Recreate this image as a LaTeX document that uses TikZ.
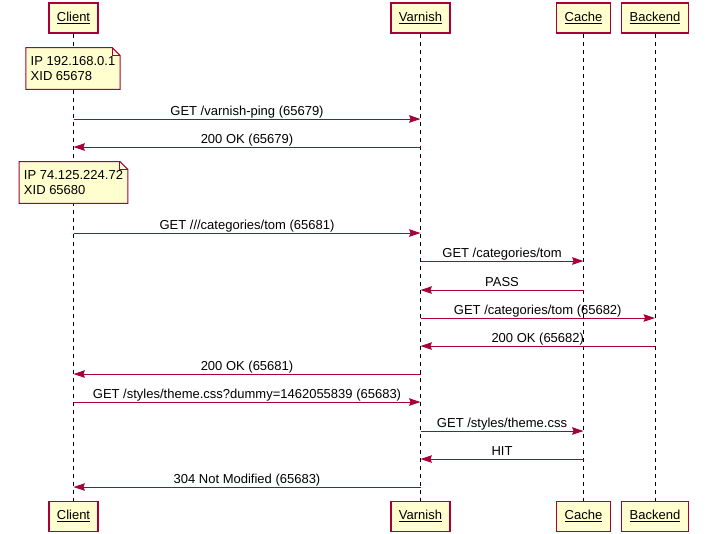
\documentclass[tikz,border=0pt]{standalone}
\usepackage{fontspec}
\setmainfont{Liberation Sans}
\usetikzlibrary{positioning}
\usetikzlibrary{quotes}
\usetikzlibrary{arrows.meta}
\definecolor{plum}{HTML}{A80036}
\definecolor{cream}{HTML}{FEFECE}

\begin{document}
\begin{tikzpicture}
		[x=0.75pt, y=-0.75pt, font=\fontsize{9.75}{11.25}\selectfont,
		 actor/.style={rectangle, draw=plum, fill=cream, line width=1pt, minimum height=22.5pt, inner xsep=6pt},
		 lifeline/.style={black, line width=0.75pt, dash pattern=on 3pt off 3pt},
		 note/.style={fill=cream, align=left, inner xsep=3.5pt, inner ysep=6.4pt},
		 msg/.style={draw=plum, line width=0.75pt, -{Stealth[length=8.5pt, width=5.6pt, inset=1pt]},
			every edge quotes/.style={anchor=base, yshift=3pt, inner sep=0pt, text=black}}]
		\useasboundingbox (0,0) rectangle (706,533);
		\node[actor] (ct) at (73.5,18) {\underline{Client}};
		\node[actor] (vt) at (420.5,18) {\underline{Varnish}};
		\node[actor] (kt) at (583.5,18) {\underline{Cache}};
		\node[actor] (bt) at (655,18) {\underline{Backend}};
		\node[actor, below=350.25pt of ct] (cb) {\underline{Client}};
		\node[actor, below=350.25pt of vt] (vb) {\underline{Varnish}};
		\node[actor, below=350.25pt of kt] (kb) {\underline{Cache}};
		\node[actor, below=350.25pt of bt] (bb) {\underline{Backend}};
		\draw[lifeline] (ct.south) -- (cb.north);
		\draw[lifeline] (vt.south) -- (vb.north);
		\draw[lifeline] (kt.south) -- (kb.north);
		\draw[lifeline] (bt.south) -- (bb.north);

		\node[note] (n1) at (73,68.5) {IP 192.168.0.1\\XID 65678};
		\node[note] (n2) at (73.5,182.5) {IP 74.125.224.72\\XID 65680};
		\foreach \n in {n1,n2} {
			\fill[white] ([xshift=-6pt]\n.north east) -- (\n.north east) -- ([yshift=-6pt]\n.north east) -- cycle;
			\draw[plum, line width=0.75pt] (\n.south west) -- (\n.north west) -- ([xshift=-6pt]\n.north east)
				-- ([yshift=-6pt]\n.north east) -- (\n.south east) -- cycle;
			\draw[plum, line width=0.75pt] ([xshift=-6pt]\n.north east) -- ([xshift=-6pt, yshift=-6pt]\n.north east)
				-- ([yshift=-6pt]\n.north east);
		}

		\draw[msg] (ct |- 0,119) to["GET /varnish-ping (65679)"] (vt |- 0,119);
		\draw[msg] (vt |- 0,147) to["200 OK (65679)"] (ct |- 0,147);
		\draw[msg] (ct |- 0,233) to["GET ///categories/tom (65681)"] (vt |- 0,233);
		\draw[msg] (vt |- 0,261) to["GET /categories/tom"] (kt |- 0,261);
		\draw[msg] (kt |- 0,290) to["PASS"] (vt |- 0,290);
		\draw[msg] (vt |- 0,318) to["GET /categories/tom (65682)"] (bt |- 0,318);
		\draw[msg] (bt |- 0,346) to["200 OK (65682)"] (vt |- 0,346);
		\draw[msg] (vt |- 0,374) to["200 OK (65681)"] (ct |- 0,374);
		\draw[msg] (ct |- 0,402) to["GET /styles/theme.css?dummy{=}1462055839 (65683)"] (vt |- 0,402);
		\draw[msg] (vt |- 0,431) to["GET /styles/theme.css"] (kt |- 0,431);
		\draw[msg] (kt |- 0,459) to["HIT"] (vt |- 0,459);
		\draw[msg] (vt |- 0,487) to["304 Not Modified (65683)"] (ct |- 0,487);
	\end{tikzpicture}
\end{document}
